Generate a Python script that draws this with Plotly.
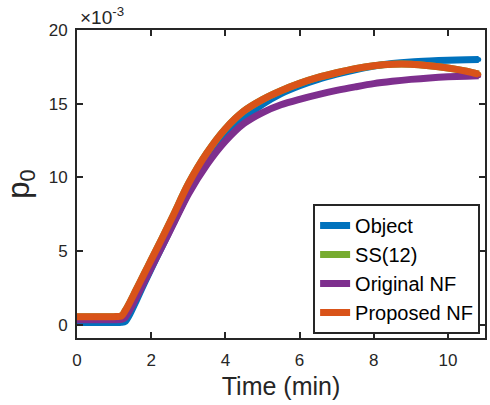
import plotly.graph_objects as go

time_min = [0, 0.5, 1.0, 1.2, 1.3, 1.4, 1.6, 1.8, 2.0, 2.3, 2.6, 3.0, 3.5, 4.0, 4.5,
            5.0, 5.5, 6.0, 6.5, 7.0, 7.5, 8.0, 8.5, 9.0, 9.5, 10.0, 10.5, 10.83]

# values in units of 1e-3
object_p0 = [0.15, 0.15, 0.15, 0.16, 0.22, 0.6, 1.65, 2.75, 3.8, 5.35, 6.9, 8.95, 11.05, 12.75, 14.0,
             14.95, 15.68, 16.22, 16.65, 17.0, 17.3, 17.55, 17.72, 17.83, 17.9, 17.95, 17.98, 18.0]
ss12_p0 = [0.55, 0.55, 0.55, 0.6, 0.95, 1.4, 2.4, 3.4, 4.4, 5.9, 7.45, 9.55, 11.65, 13.3, 14.5,
           15.28, 15.88, 16.38, 16.78, 17.1, 17.38, 17.58, 17.68, 17.68, 17.58, 17.42, 17.2, 17.0]
original_nf_p0 = [0.34, 0.34, 0.34, 0.36, 0.5, 0.9, 1.85, 2.85, 3.85, 5.35, 6.85, 8.85, 10.85, 12.45, 13.65,
                  14.4, 14.93, 15.3, 15.62, 15.9, 16.14, 16.36, 16.52, 16.65, 16.75, 16.82, 16.87, 16.9]
proposed_nf_p0 = [0.55, 0.55, 0.55, 0.6, 0.95, 1.4, 2.4, 3.4, 4.4, 5.9, 7.45, 9.55, 11.65, 13.3, 14.5,
                  15.28, 15.88, 16.38, 16.78, 17.1, 17.38, 17.58, 17.68, 17.68, 17.58, 17.42, 17.2, 17.0]

names = ["Object", "SS(12)", "Original NF", "Proposed NF"]
series = [object_p0, ss12_p0, original_nf_p0, proposed_nf_p0]
colors = ["#0072BD", "#77AC30", "#7E2F8E", "#D95319"]

x_ticks = [0, 2, 4, 6, 8, 10]
y_ticks = [0, 5, 10, 15, 20]

FONT = "Liberation Sans, Arial, Helvetica, sans-serif"
AX = "#262626"

fig = go.Figure()
for name, ys, c in zip(names, series, colors):
    fig.add_trace(go.Scatter(
        x=time_min, y=ys, name=name, mode="lines+markers",
        line=dict(color=c, width=7, shape="spline", smoothing=0.8),
        marker=dict(color=c, size=5),
    ))

axis_common = dict(
    showline=True, linewidth=2, linecolor=AX, mirror="allticks",
    ticks="inside", ticklen=6, tickwidth=2, tickcolor=AX,
    showgrid=False, zeroline=False,
    tickfont=dict(family=FONT, size=17, color=AX),
)

fig.update_layout(
    width=490, height=405,
    margin=dict(l=77, r=3, t=30, b=67),
    paper_bgcolor="white", plot_bgcolor="white",
    showlegend=True,
    legend=dict(
        x=0.988, y=0.013, xanchor="right", yanchor="bottom",
        bgcolor="white", bordercolor=AX, borderwidth=2,
        font=dict(family=FONT, size=20, color="black"),
        itemwidth=30, tracegroupgap=0,
    ),
    xaxis=dict(range=[0, 11], tickvals=x_ticks, ticktext=[str(v) for v in x_ticks],
               ticklabelstandoff=6,
               title=dict(text="Time (min)", font=dict(family=FONT, size=25, color=AX), standoff=8),
               **axis_common),
    yaxis=dict(range=[-0.9, 20], tickvals=y_ticks, ticktext=[str(v) for v in y_ticks],
               ticklabelstandoff=4,
               title=dict(text="p<sub>0</sub>", font=dict(family=FONT, size=31, color=AX), standoff=10),
               **axis_common),
    annotations=[dict(
        text="×10<sup>-3</sup>", xref="paper", yref="paper", x=0, y=1,
        xanchor="left", yanchor="bottom", xshift=1, yshift=0, showarrow=False,
        font=dict(family=FONT, size=19, color=AX),
    )],
)

fig.write_html("out.html")
